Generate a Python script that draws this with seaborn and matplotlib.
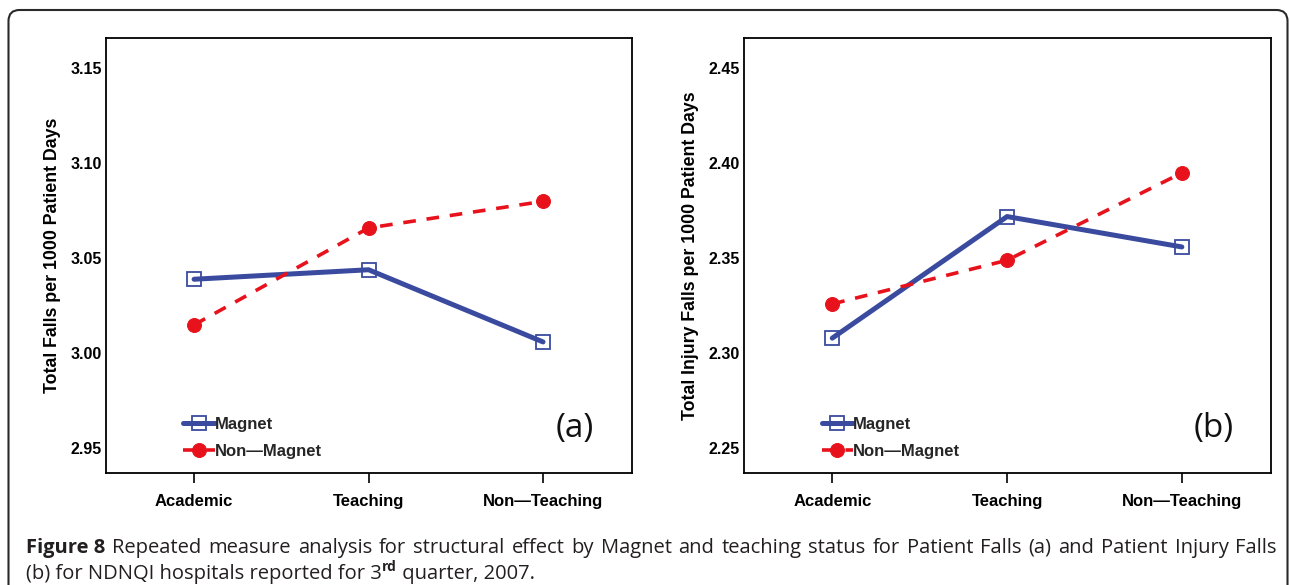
import matplotlib
matplotlib.use("Agg")
import matplotlib.pyplot as plt
import matplotlib.transforms as mtransforms
from matplotlib.patches import FancyBboxPatch
import seaborn as sns
import pandas as pd

# ---------------- data ----------------
categories = ["Academic", "Teaching", "Non\u2014Teaching"]
groups = ["Magnet", "Non\u2014Magnet"]
falls_magnet = [3.039, 3.044, 3.006]
falls_nonmagnet = [3.015, 3.066, 3.080]
injury_magnet = [2.308, 2.372, 2.356]
injury_nonmagnet = [2.326, 2.349, 2.395]
falls_yticks = [2.95, 3.00, 3.05, 3.10, 3.15]
injury_yticks = [2.25, 2.30, 2.35, 2.40, 2.45]
falls_ylim = (2.937, 3.166)
injury_ylim = (2.237, 2.466)
ylabels = ["Total Falls per 1000 Patient Days", "Total Injury Falls per 1000 Patient Days"]
panel_tags = ["(a)", "(b)"]
caption_bold = "Figure 8"
caption_line1 = "Repeated measure analysis for structural effect by Magnet and teaching status for Patient Falls (a) and Patient Injury Falls"
caption_line2a = "(b) for NDNQI hospitals reported for 3"
caption_sup = "rd"
caption_line2b = " quarter, 2007."

BLUE = "#3A4B9F"
RED = "#E8121C"

sns.set_theme(style="white")
plt.rcParams["font.family"] = ["Liberation Sans", "DejaVu Sans"]

W, H, DPI = 1290, 585, 100
fig = plt.figure(figsize=(W / DPI, H / DPI), dpi=DPI)

axes_boxes = [(106, 38, 632, 473), (744, 38, 1271, 473)]
datasets = [(falls_magnet, falls_nonmagnet, falls_yticks, falls_ylim),
            (injury_magnet, injury_nonmagnet, injury_yticks, injury_ylim)]

for i, ((x0, y0, x1, y1), (mag, nonmag, yt, yl)) in enumerate(zip(axes_boxes, datasets)):
    ax = fig.add_axes([x0 / W, 1 - y1 / H, (x1 - x0) / W, (y1 - y0) / H])
    df = pd.DataFrame({
        "status": categories * 2,
        "value": mag + nonmag,
        "group": [groups[0]] * 3 + [groups[1]] * 3,
    })
    d_m = df[df["group"] == groups[0]]
    d_n = df[df["group"] == groups[1]]
    sns.lineplot(data=d_m, x="status", y="value", ax=ax, color=BLUE, lw=3.6,
                 marker="s", markersize=9.5, markerfacecolor="none",
                 markeredgecolor=BLUE, markeredgewidth=1.3, label=groups[0],
                 sort=False)
    sns.lineplot(data=d_n, x="status", y="value", ax=ax, color=RED, lw=2.6,
                 marker="o", markersize=10, markerfacecolor=RED,
                 markeredgecolor=RED, linestyle=(0, (3.5, 3)), label=groups[1],
                 sort=False)
    ax.set_xlim(-0.505, 2.51)
    ax.set_ylim(*yl)
    ax.set_yticks(yt)
    ax.set_yticklabels([f"{v:.2f}" for v in yt])
    ax.set_xlabel("")
    ax.set_ylabel(ylabels[i], fontsize=12.8, fontweight="bold", color="black")
    ax.yaxis.set_label_coords(-0.086, 0.5)
    ax.tick_params(axis="y", length=0, pad=3, labelsize=11.5, labelcolor="black")
    ax.tick_params(axis="x", length=7, width=1.2, direction="out", pad=8,
                   labelsize=12, labelcolor="black", bottom=True, color="black")
    for lab in ax.get_xticklabels() + ax.get_yticklabels():
        lab.set_fontweight("bold")
    for sp in ax.spines.values():
        sp.set_color("black")
        sp.set_linewidth(1.3)
        sp.set_visible(True)
    ax.grid(False)
    leg = ax.legend(loc="lower left", bbox_to_anchor=(0.125, 0.005), frameon=False,
                    handlelength=1.9, handletextpad=0.0, labelspacing=0.75,
                    borderpad=0.2, prop={"family": "Liberation Sans", "weight": "bold", "size": 12})
    ax.text(0.892, 0.103, panel_tags[i], transform=ax.transAxes, ha="center", va="center",
            fontsize=24, family=["Open Sans", "DejaVu Sans"], color="#111111")

# rounded outer frame in pixel coordinates
frame = FancyBboxPatch((8.5, -20), 1279, 585 - 10 + 20, boxstyle="round,pad=0,rounding_size=11",
                       transform=mtransforms.IdentityTransform(), fill=False,
                       edgecolor="#2a2a2a", linewidth=1.5, figure=fig)
fig.patches.append(frame)

# caption
cap_kw = dict(family=["Open Sans", "DejaVu Sans"], color="#231F20", va="baseline", ha="left")
CAP_FS = 14.5
fig.canvas.draw()
r = fig.canvas.get_renderer()

def place(x_px, y_px, s, **kw):
    t = fig.text(x_px / W, 1 - y_px / H, s, **{**cap_kw, **kw})
    bb = t.get_window_extent(renderer=r)
    return t, bb.x1

# justified first line
LINE_RIGHT = 1277
words = [(caption_bold, "bold")] + [(w, "normal") for w in caption_line1.split(" ")]
texts = []
total = 0.0
for w, wt in words:
    t, _ = place(0, 553, w, fontsize=CAP_FS, fontweight=wt)
    wpx = t.get_window_extent(renderer=r).width
    texts.append((t, wpx))
    total += wpx
gap = (LINE_RIGHT - 26 - total) / (len(words) - 1)
xcur = 26.0
for t, wpx in texts:
    t.set_x(xcur / W)
    xcur += wpx + gap

_, x = place(26, 579, caption_line2a, fontsize=CAP_FS)
_, x = place(x, 571, caption_sup, fontsize=CAP_FS * 0.68, fontweight="bold")
place(x, 579, caption_line2b, fontsize=CAP_FS)

fig.savefig("out.png", dpi=DPI)
